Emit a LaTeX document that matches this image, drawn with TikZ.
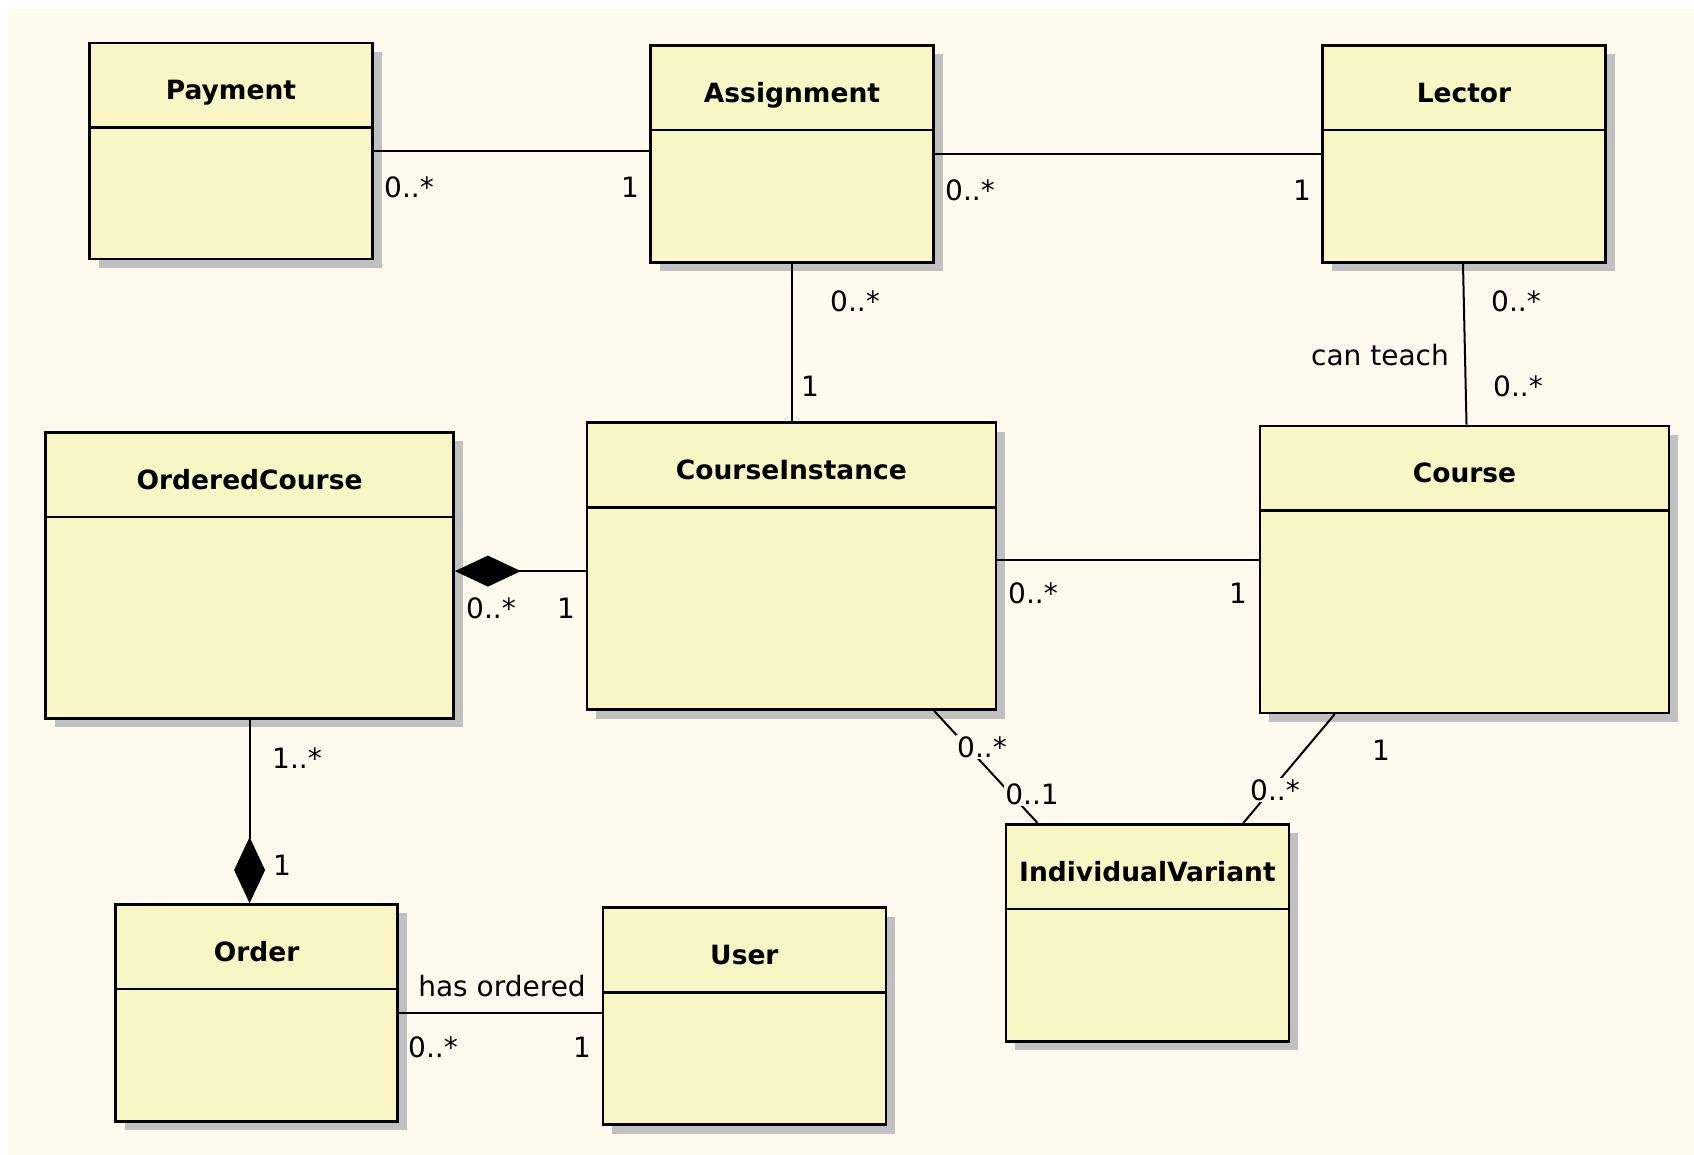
\documentclass[tikz,border=0pt]{standalone}
\usepackage{fontspec}
\setmainfont{DejaVu Sans}
\usetikzlibrary{arrows.meta,shadows}
\definecolor{bgcream}{HTML}{FEFAEE}
\definecolor{boxfill}{HTML}{F9F6C6}
\definecolor{shadowgray}{HTML}{C0C0C0}

\begin{document}
\begin{tikzpicture}[x=1pt,y=-1pt,
  cls/.style={draw, line width=2.6pt, fill=boxfill, inner sep=0pt,
    drop shadow={shadow xshift=9pt, shadow yshift=-9pt, fill=shadowgray, opacity=1}},
  title/.style={anchor=base, inner sep=0pt, font=\fontsize{26.5}{31}\selectfont\bfseries},
  mult/.style={fill=bgcream, inner sep=1.5pt, font=\fontsize{28}{33}\selectfont},
  assoc/.style={line width=2pt},
  comp/.style={line width=2pt, {Diamond[length=66pt,width=31pt]}-}]
\useasboundingbox (0,0) rectangle (1694,1155);
\fill[white] (0,0) rectangle (1694,1155);
\fill[bgcream] (8,9) rectangle (1694,1155);

% classes
\node[cls, minimum width=283pt, minimum height=216pt] (payment) at (231,151) {};
\node[cls, minimum width=283pt, minimum height=217pt] (assignment) at (792,154) {};
\node[cls, minimum width=283pt, minimum height=217pt] (lector) at (1464,154) {};
\node[cls, minimum width=408pt, minimum height=286pt] (orderedCourse) at (249.6,575.4) {};
\node[cls, minimum width=409pt, minimum height=287pt] (courseInstance) at (791.4,566.1) {};
\node[cls, minimum width=409pt, minimum height=287pt] (course) at (1464.5,569.4) {};
\node[cls, minimum width=283pt, minimum height=217pt] (individualVariant) at (1147.4,932.9) {};
\node[cls, minimum width=282pt, minimum height=217pt] (order) at (256.6,1012.9) {};
\node[cls, minimum width=283pt, minimum height=217pt] (user) at (744.4,1016) {};

\foreach \c/\t in {payment/Payment, assignment/Assignment, lector/Lector,
    orderedCourse/OrderedCourse, courseInstance/CourseInstance, course/Course,
    individualVariant/IndividualVariant, order/Order, user/User}{
  \draw[line width=2.6pt] ([yshift=-86pt]\c.north west) -- ([yshift=-86pt]\c.north east);
  \node[title] (\c-name) at ([yshift=-58pt]\c.north) {\t};
}

% associations
\draw[assoc] (payment.east) -- (payment.east -| assignment.west);
\draw[assoc] (assignment.east) -- (lector.west);
\draw[assoc] (assignment.south) -- (assignment.south |- courseInstance.north);
\draw[assoc] ([xshift=-1pt]lector.south) -- ([xshift=2pt]course.north);
\draw[comp] ([yshift=-5pt]courseInstance.west -| orderedCourse.east) -- ([yshift=-5pt]courseInstance.west);
\draw[assoc] ([yshift=6pt]courseInstance.east) -- ([yshift=6pt]courseInstance.east -| course.west);
\draw[comp] (orderedCourse.south |- order.north) -- (orderedCourse.south);
\draw[assoc] (order.east) -- (order.east -| user.west);
\draw[assoc] ([xshift=-63pt]courseInstance.south east) -- ([xshift=33pt]individualVariant.north west);
\draw[assoc] ([xshift=76pt]course.south west) -- ([xshift=-47pt]individualVariant.north east);

% multiplicities and names
\node[mult] (payAsgFrom) at (409,187) {0..*};
\node[mult] (payAsgTo) at (630,187) {1};
\node[mult] (asgLecFrom) at (970,190) {0..*};
\node[mult] (asgLecTo) at (1302,190) {1};
\node[mult] (asgCiFrom) at (855,301) {0..*};
\node[mult] (asgCiTo) at (810,386) {1};
\node[mult] (lecCourseFrom) at (1516,301) {0..*};
\node[mult, fill=none] (lecCourseName) at (1380,355) {can teach};
\node[mult] (lecCourseTo) at (1518,386) {0..*};
\node[mult] (ocCiFrom) at (491,608) {0..*};
\node[mult] (ocCiTo) at (566,608) {1};
\node[mult] (ciCourseFrom) at (1033,593) {0..*};
\node[mult] (ciCourseTo) at (1238,593) {1};
\node[mult] (ocOrderFrom) at (297,758) {1..*};
\node[mult] (ocOrderTo) at (282,865) {1};
\node[mult] (orderUserName) at (502,986) {has ordered};
\node[mult] (orderUserFrom) at (433,1047) {0..*};
\node[mult] (orderUserTo) at (582,1047) {1};
\node[mult] (ciIvFrom) at (982,747) {0..*};
\node[mult] (ciIvTo) at (1032,794) {0..1};
\node[mult] (courseIvFrom) at (1381,750) {1};
\node[mult] (courseIvTo) at (1275,790) {0..*};
\end{tikzpicture}
\end{document}
